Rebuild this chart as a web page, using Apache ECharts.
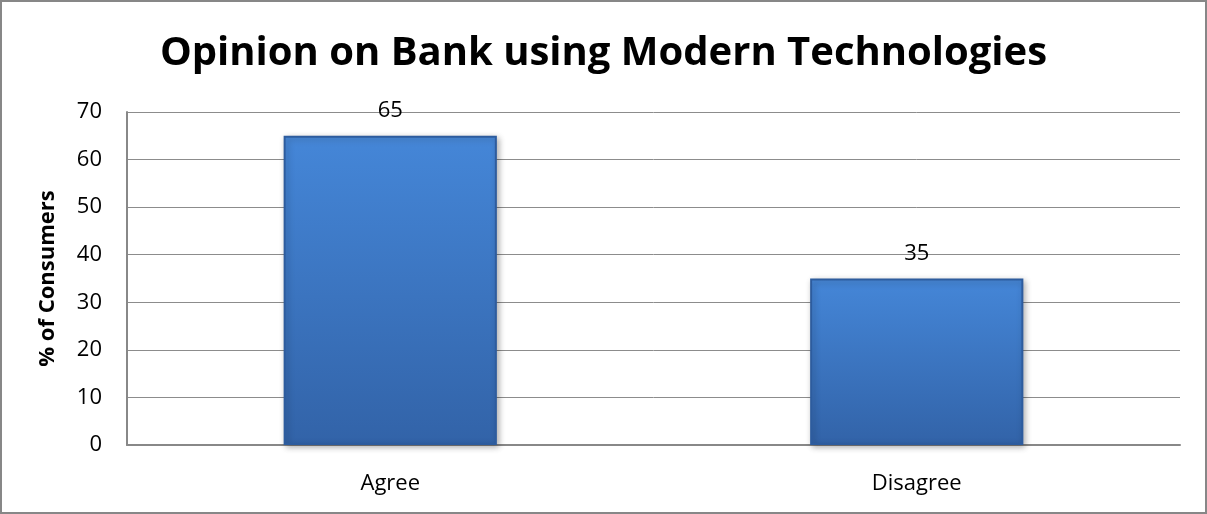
<!DOCTYPE html>
<html lang="en">

<head>
  <meta charset="UTF-8">
  <title>Opinion on Bank using Modern Technologies</title>
  <style>
    * {
      margin: 0;
      padding: 0;
    }

    #chart {
      width: 1207px;
      height: 514px;
      box-sizing: border-box;
      border: 2px solid #878787;
    }
  </style>
  <script src="https://cdn.jsdelivr.net/npm/echarts@6/dist/echarts.min.js"></script>
</head>

<body>
  <div id="chart"></div>
  <script>
    const myChart = echarts.init(document.querySelector('#chart'))

    // data
    const categories = ['Agree', 'Disagree']
    const values = [65, 35]
    const yTicks = [0, 10, 20, 30, 40, 50, 60, 70]

    const font = "'Open Sans', 'Liberation Sans', sans-serif"

    const option = {
      backgroundColor: '#fff',
      title: {
        text: 'Opinion on Bank using Modern Technologies',
        left: 'center',
        top: 27,
        textStyle: { fontFamily: font, fontSize: 40, fontWeight: 'bold', color: '#000' }
      },
      grid: { left: 125, right: 25, top: 110, bottom: 67 },
      xAxis: {
        type: 'category',
        data: categories,
        axisLine: { lineStyle: { color: '#888', width: 2 } },
        axisTick: { show: false },
        axisLabel: { color: '#000', fontSize: 22, fontFamily: font, margin: 28 }
      },
      yAxis: {
        type: 'value',
        min: yTicks[0],
        max: yTicks[yTicks.length - 1],
        interval: 10,
        name: '% of Consumers',
        nameLocation: 'middle',
        nameGap: 68,
        nameTextStyle: { color: '#000', fontSize: 22, fontWeight: 'bold', fontFamily: font },
        axisLine: { show: true, lineStyle: { color: '#888', width: 2 } },
        axisTick: { show: false },
        axisLabel: { color: '#000', fontSize: 22, fontFamily: font, margin: 25 },
        splitLine: { lineStyle: { color: '#8c8c8c', width: 1 } }
      },
      series: [
        {
          type: 'bar',
          data: values,
          barWidth: '40.5%',
          itemStyle: {
            color: new echarts.graphic.LinearGradient(0, 0, 0, 1, [
              { offset: 0, color: '#4a8bdb' },
              { offset: 0.04, color: '#4485d6' },
              { offset: 1, color: '#3263a8' }
            ]),
            borderColor: '#2d5c9e',
            borderWidth: 2,
            shadowColor: 'rgba(0,0,0,0.3)',
            shadowBlur: 6,
            shadowOffsetX: 2,
            shadowOffsetY: 2
          },
          label: {
            show: true,
            position: 'top',
            distance: 14,
            color: '#000',
            fontSize: 22,
            fontFamily: font
          }
        }
      ]
    }
    myChart.setOption(option)
  </script>
</body>

</html>
